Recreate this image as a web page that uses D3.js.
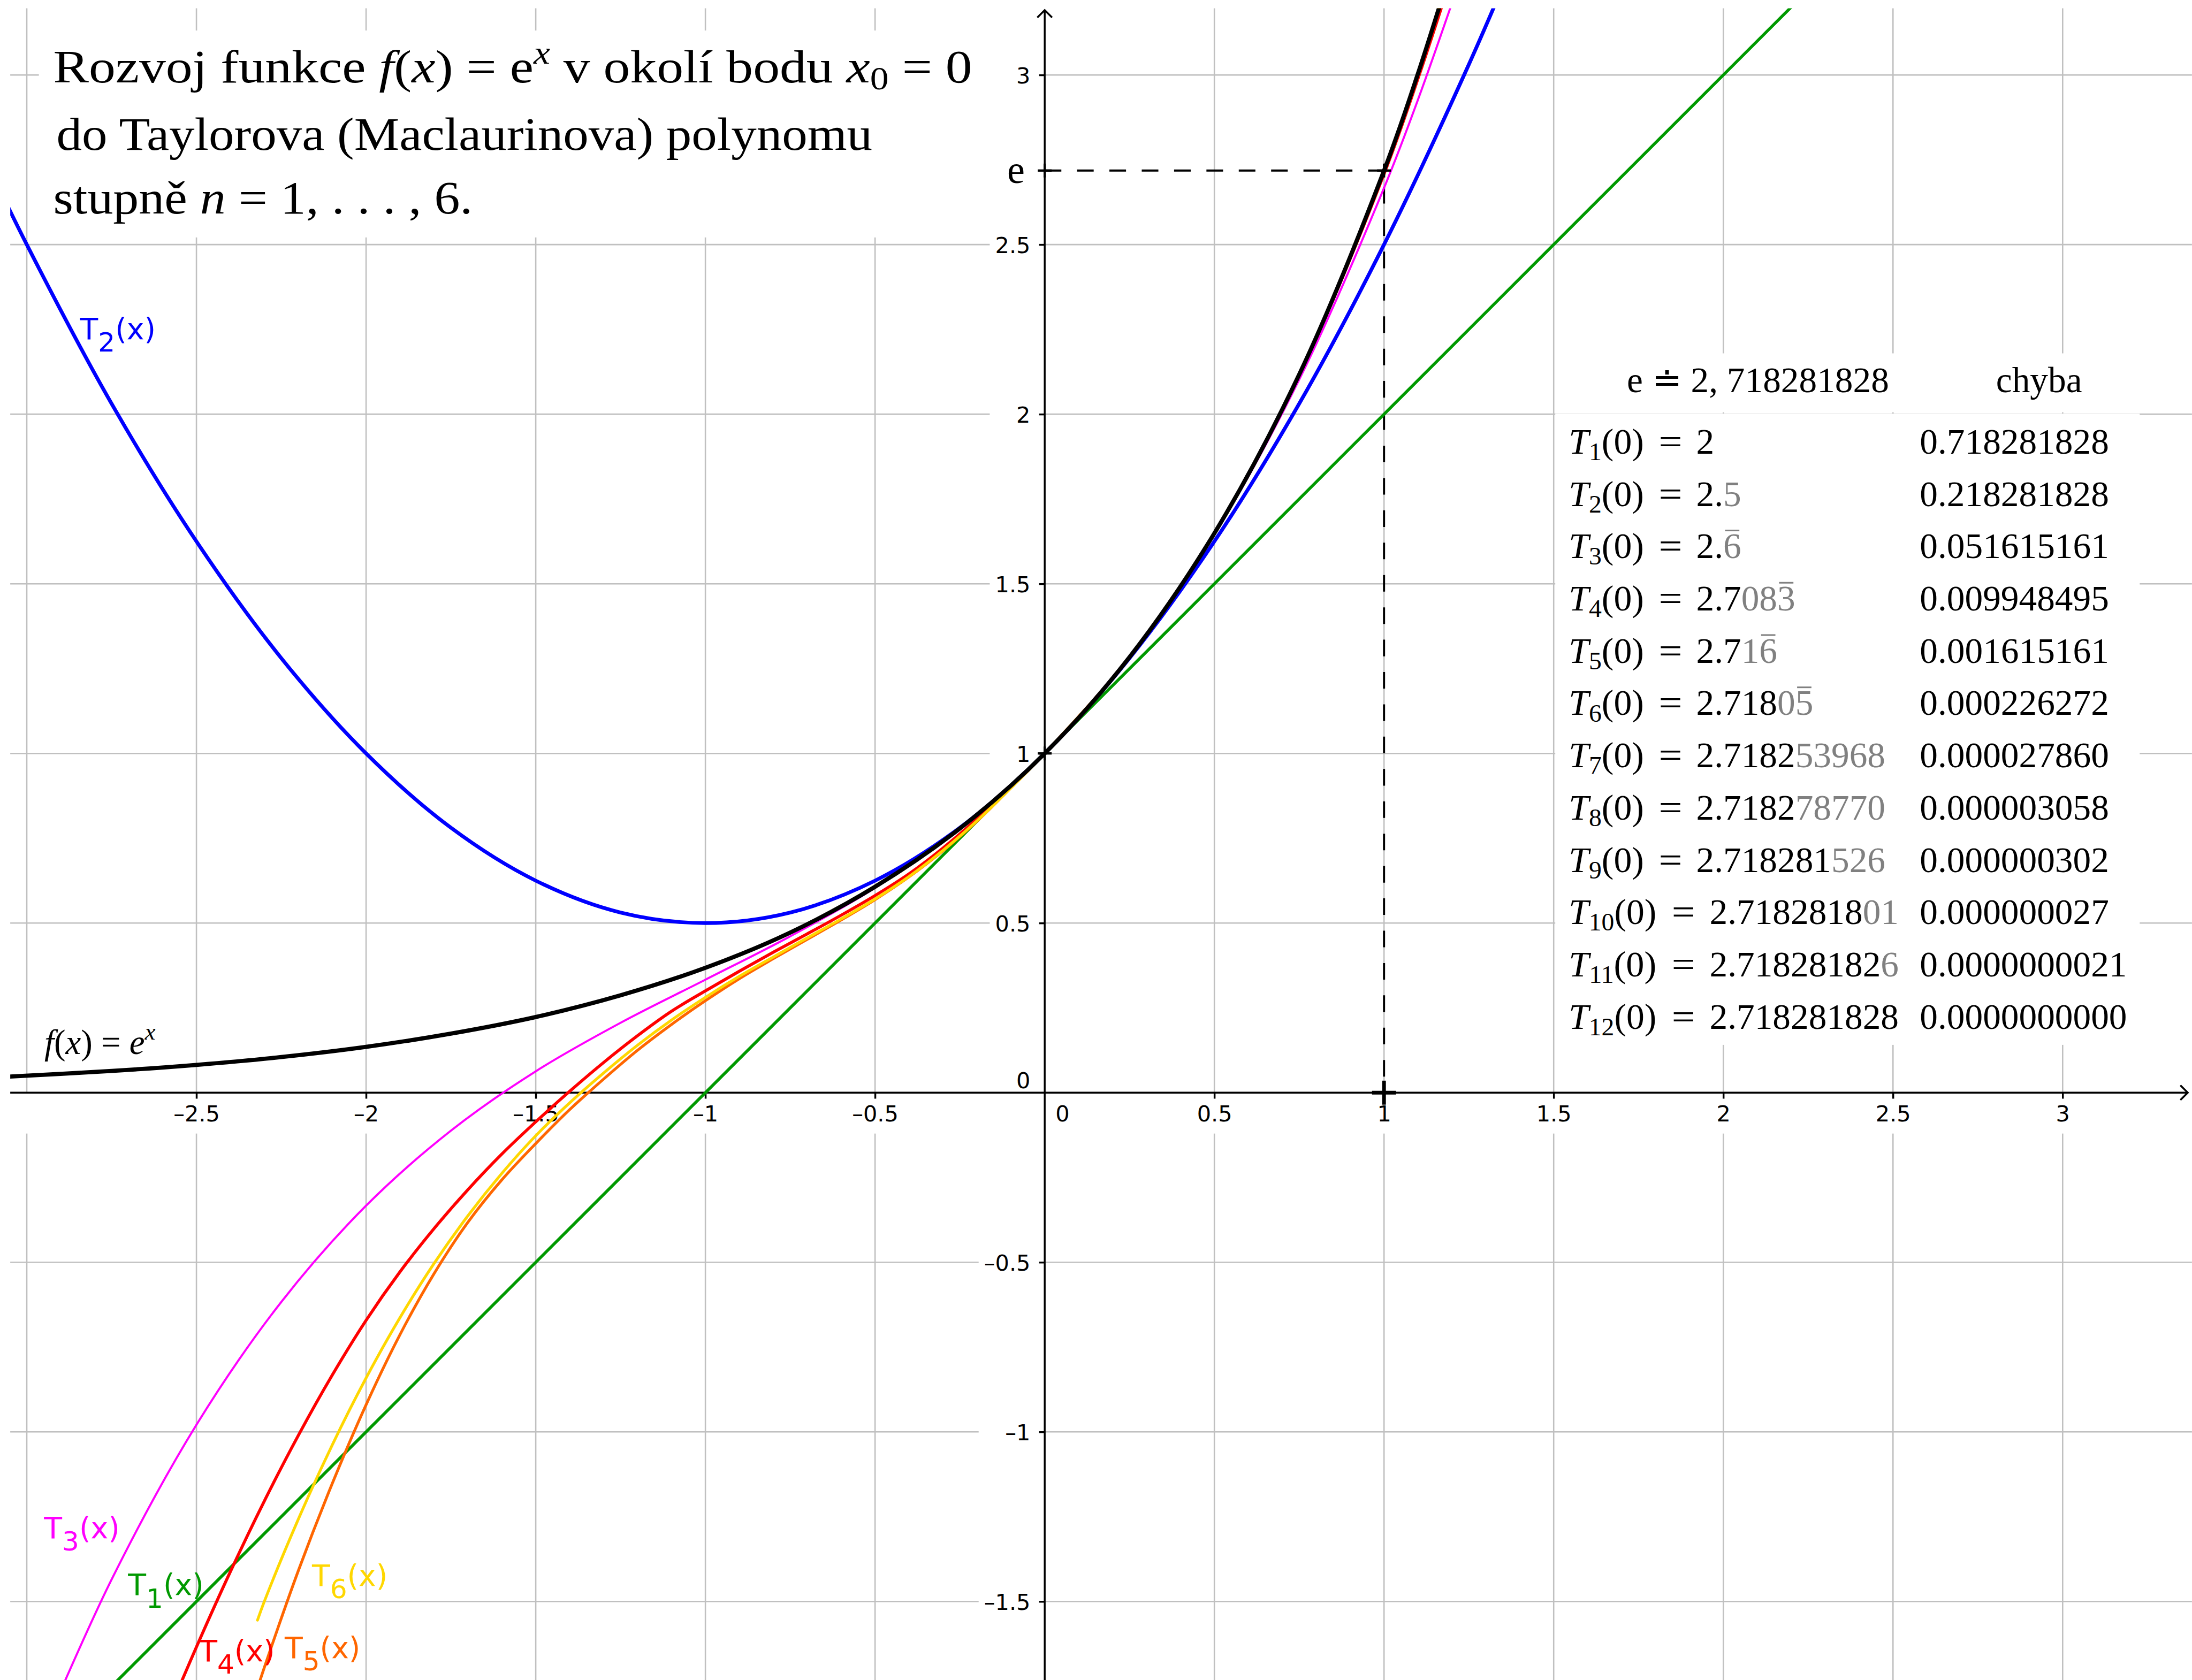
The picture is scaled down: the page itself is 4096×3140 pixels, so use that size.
<!DOCTYPE html>
<html>
<head>
	<meta charset="utf-8">
	<title>Taylor e^x</title>
	<style>
		body { margin: 0; background: #fff; }
		svg { display: block; }
		.grid line { stroke: #c0c0c0; stroke-width: 3; }
		.serif { font-family: "Liberation Serif", "Times New Roman", serif; }
		.lbl { font-family: "DejaVu Sans", sans-serif; font-size: 64px; }
	</style>
</head>
<body>
	<div id="chart"></div>
	<script src="https://cdnjs.cloudflare.com/ajax/libs/d3/7.8.5/d3.min.js"></script>
	<script>
	// Ticks and grid
	var xTicks = [-2.5, -2, -1.5, -1, -0.5, 0, 0.5, 1, 1.5, 2, 2.5, 3]
	var yTicks = [-1.5, -1, -0.5, 0, 0.5, 1, 1.5, 2, 2.5, 3]
	var gridX  = [-3, -2.5, -2, -1.5, -1, -0.5, 0.5, 1, 1.5, 2, 2.5, 3]
	var gridY  = [-1.5, -1, -0.5, 0.5, 1, 1.5, 2, 2.5, 3]

	// Curves as [x, y]
	var fPts = [[-3.1,0.045],[-2.75,0.064],[-2.5,0.082],[-2.25,0.105],[-2,0.135],[-1.75,0.174],[-1.5,0.223],
		[-1.25,0.287],[-1,0.368],[-0.75,0.472],[-0.5,0.607],[-0.25,0.779],[0,1],[0.25,1.284],[0.5,1.649],
		[0.75,2.117],[1,2.718],[1.1,3.004],[1.2,3.32]]
	var t1Pts = [[-2.8,-1.8],[-2,-1],[-1,0],[0,1],[1,2],[2.3,3.3]]
	var t2Pts = [[-3.1,2.705],[-3,2.5],[-2.75,2.031],[-2.5,1.625],[-2.25,1.281],[-2,1],[-1.75,0.781],[-1.5,0.625],
		[-1.25,0.531],[-1,0.5],[-0.75,0.531],[-0.5,0.625],[-0.25,0.781],[0,1],[0.25,1.281],[0.5,1.625],
		[0.75,2.031],[1,2.5],[1.25,3.031],[1.4,3.38]]
	var t3Pts = [[-2.95,-1.878],[-2.75,-1.435],[-2.5,-0.979],[-2.25,-0.617],[-2,-0.333],[-1.75,-0.112],[-1.5,0.063],
		[-1.25,0.206],[-1,0.333],[-0.75,0.461],[-0.5,0.604],[-0.25,0.779],[0,1],[0.25,1.284],[0.5,1.646],
		[0.75,2.102],[1,2.667],[1.1,2.927],[1.25,3.357]]
	var t4Pts = [[-2.56,-1.774],[-2.5,-1.634],[-2.4,-1.412],[-2.3,-1.204],[-2.2,-1.011],[-2.1,-0.833],[-2,-0.671],
		[-1.9,-0.528],[-1.8,-0.401],[-1.7,-0.286],[-1.6,-0.181],[-1.5,-0.086],[-1.4,0.004],[-1.3,0.089],[-1.2,0.168],
		[-1.1,0.24],[-1,0.3],[-0.9,0.358],[-0.8,0.414],[-0.7,0.468],[-0.6,0.523],[-0.5,0.581],[-0.4,0.645],
		[-0.3,0.721],[-0.2,0.807],[-0.1,0.902],[0,1],[0.25,1.284],[0.5,1.648],[0.75,2.115],[1,2.708],[1.1,2.989],[1.2,3.294]]
	var t5Pts = [[-2.33,-1.786],[-2.3,-1.695],[-2.2,-1.41],[-2.1,-1.153],[-2,-0.92],[-1.9,-0.713],[-1.8,-0.534],
		[-1.7,-0.382],[-1.6,-0.257],[-1.5,-0.15],[-1.4,-0.05],[-1.3,0.04],[-1.2,0.125],[-1.1,0.201],[-1,0.271],
		[-0.9,0.336],[-0.8,0.395],[-0.7,0.452],[-0.6,0.509],[-0.5,0.569],[-0.4,0.636],[-0.3,0.713],[-0.2,0.8],
		[-0.1,0.898],[0,1],[0.25,1.284],[0.5,1.649],[0.75,2.117],[1,2.717],[1.1,3.004],[1.2,3.32]]
	var t6Pts = [[-2.32,-1.555],[-2.3,-1.5],[-2.2,-1.258],[-2.1,-1.039],[-2,-0.841],[-1.9,-0.663],[-1.8,-0.504],
		[-1.7,-0.363],[-1.6,-0.238],[-1.5,-0.127],[-1.4,-0.03],[-1.3,0.058],[-1.2,0.14],[-1.1,0.214],[-1,0.281],
		[-0.9,0.343],[-0.8,0.4],[-0.7,0.456],[-0.6,0.512],[-0.5,0.571],[-0.4,0.637],[-0.3,0.714],[-0.2,0.801],
		[-0.1,0.898],[0,1],[0.25,1.284],[0.5,1.649],[0.75,2.117],[1,2.718],[1.1,3.004],[1.2,3.32]]

	// Marked points
	var eVal = 2.718281828
	var smallMarks = [[0,1],[0,eVal],[1,eVal]]
	var bigMarks = [[1,0]]
	var dashPath = [[0,eVal],[1,eVal],[1,0]]

	// Table
	var tabN     = [1,2,3,4,5,6,7,8,9,10,11,12]
	var tabBlack = ["2","2.","2.","2.7","2.7","2.718","2.7182","2.7182","2.718281","2.7182818","2.71828182","2.718281828"]
	var tabGray  = ["","5","6","083","16","05","53968","78770","526","01","6",""]
	var tabBar   = [false,false,true,true,true,true,false,false,false,false,false,false]
	var tabErr   = ["0.718281828","0.218281828","0.051615161","0.009948495","0.001615161","0.000226272",
		"0.000027860","0.000003058","0.000000302","0.000000027","0.0000000021","0.0000000000"]

	// Canvas, drawn in the reference's pixel space
	var W = 4744, H = 3637
	var ox = 2261, oy = 2365.5, unit = 734.4

	var svg = d3.select("#chart").append("svg")
		.attr("width", 4096).attr("height", 3140)
		.attr("viewBox", "0 0 " + W + " " + H)

	svg.append("rect").attr("width", W).attr("height", H).attr("fill", "#fff")

	var x = d3.scaleLinear().domain([0, 1]).range([ox, ox + unit])
	var y = d3.scaleLinear().domain([0, 1]).range([oy, oy - unit])

	// Grid
	var grid = svg.append("g").attr("class", "grid")
	grid.selectAll(".gx").data(gridX).enter().append("line")
		.attr("x1", d => x(d)).attr("x2", d => x(d)).attr("y1", 18).attr("y2", H)
	grid.selectAll(".gy").data(gridY).enter().append("line")
		.attr("y1", d => y(d)).attr("y2", d => y(d)).attr("x1", 22).attr("x2", W)

	// White boxes: label strips, title, table
	var boxes = [
		[22, oy + 2, W, 2454],
		[2142, 18, ox - 2, oy],
		[2118, oy, ox - 2, H],
		[84, 66, 2150, 514],
		[3366, 765, 4631, 892.5],
		[3366, 895.5, 4631, 2262]
	]
	svg.append("g").selectAll("rect").data(boxes).enter().append("rect")
		.attr("x", d => d[0]).attr("y", d => d[1])
		.attr("width", d => d[2] - d[0]).attr("height", d => d[3] - d[1])
		.attr("fill", "#fff")

	// Axes
	var fmt = function(d){ return d < 0 ? "\u2013" + Math.abs(d) : String(d) }

	var gx = svg.append("g").attr("transform", "translate(0," + oy + ")")
		.call(d3.axisBottom(x).tickValues(xTicks).tickSize(13).tickPadding(15.5).tickFormat(fmt))
	gx.attr("font-family", "'DejaVu Sans', sans-serif").attr("font-size", 48)
	gx.select(".domain").remove()
	gx.selectAll(".tick line").attr("stroke", "#000").attr("stroke-width", 4)
	gx.selectAll(".tick text").attr("fill", "#000")
	gx.selectAll(".tick").filter(d => d === 0).select("line").remove()
	gx.selectAll(".tick").filter(d => d === 0).select("text").attr("x", 38)

	var gy = svg.append("g").attr("transform", "translate(" + ox + ",0)")
		.call(d3.axisLeft(y).tickValues(yTicks).tickSize(12).tickPadding(19).tickFormat(fmt))
	gy.attr("font-family", "'DejaVu Sans', sans-serif").attr("font-size", 48)
	gy.select(".domain").remove()
	gy.selectAll(".tick line").attr("stroke", "#000").attr("stroke-width", 4)
	gy.selectAll(".tick text").attr("fill", "#000").attr("dy", "0.375em")
	gy.selectAll(".tick").filter(d => d === 0).select("line").remove()
	gy.selectAll(".tick").filter(d => d === 0).select("text").attr("dy", -10.5)

	var axes = svg.append("g").attr("stroke", "#000").attr("stroke-width", 4).attr("fill", "none")
	axes.append("line").attr("x1", 22).attr("x2", 4735).attr("y1", oy).attr("y2", oy)
	axes.append("line").attr("x1", ox).attr("x2", ox).attr("y1", 22).attr("y2", H)
	axes.append("path").attr("d", "M4719," + (oy - 16) + "L4735," + oy + "L4719," + (oy + 16))
	axes.append("path").attr("d", "M" + (ox - 16) + ",38L" + ox + ",22L" + (ox + 16) + ",38")

	// "e" on the y axis
	svg.append("text").attr("class", "serif").attr("font-size", 86)
		.attr("text-anchor", "end").attr("x", 2218).attr("y", y(eVal) + 27).text("e")

	// Dashed guide to (1, e)
	var line = d3.line().x(d => x(d[0])).y(d => y(d[1]))
	svg.append("path").attr("d", line(dashPath))
		.attr("fill", "none").attr("stroke", "#000").attr("stroke-width", 4.5)
		.attr("stroke-dasharray", "36,34")

	// Curves
	svg.append("clipPath").attr("id", "clip").append("rect")
		.attr("x", 22).attr("y", 18).attr("width", W - 22).attr("height", H - 18)

	var curves = [
		{pts: t1Pts, color: "#009900", w: 6.5},
		{pts: t2Pts, color: "#0000ff", w: 8},
		{pts: t3Pts, color: "#ff00ff", w: 4.5},
		{pts: t4Pts, color: "#ff0000", w: 6.5},
		{pts: t5Pts, color: "#ff6600", w: 6},
		{pts: t6Pts, color: "#ffd700", w: 6},
		{pts: fPts,  color: "#000000", w: 9}
	]
	var smooth = d3.line().x(d => x(d[0])).y(d => y(d[1])).curve(d3.curveCatmullRom.alpha(0.5))
	svg.append("g").attr("clip-path", "url(#clip)")
		.selectAll("path").data(curves).enter().append("path")
		.attr("d", d => smooth(d.pts))
		.attr("fill", "none")
		.attr("stroke", d => d.color)
		.attr("stroke-width", d => d.w)
		.attr("stroke-linecap", "round")
		.attr("stroke-linejoin", "round")

	// Point crosses
	var cross = function(data, r, w){
		var g = svg.append("g").attr("stroke", "#000").attr("stroke-width", w)
		g.selectAll(".h").data(data).enter().append("line")
			.attr("x1", d => x(d[0]) - r).attr("x2", d => x(d[0]) + r)
			.attr("y1", d => y(d[1])).attr("y2", d => y(d[1]))
		g.selectAll(".v").data(data).enter().append("line")
			.attr("x1", d => x(d[0])).attr("x2", d => x(d[0]))
			.attr("y1", d => y(d[1]) - r).attr("y2", d => y(d[1]) + r)
	}
	cross(smallMarks, 15, 5)
	cross(bigMarks, 26, 8)

	// Rich text helper
	var addSegs = function(sel, segs){
		segs.forEach(function(s){
			var ts = sel.append("tspan").text(s.t)
			if (s.i) ts.attr("font-style", "italic")
			if (s.fs) ts.attr("font-size", s.fs)
			if (s.dy) ts.attr("dy", s.dy)
			if (s.fill) ts.attr("fill", s.fill)
		})
		return sel
	}

	// Curve labels
	var labels = [
		{n: "2", at: [-2.843, 2.2215], color: "#0000ff"},
		{n: "3", at: [-2.949, -1.313], color: "#ff00ff"},
		{n: "1", at: [-2.7015, -1.481], color: "#009900"},
		{n: "6", at: [-2.1596, -1.4534], color: "#ffd700"},
		{n: "4", at: [-2.4918, -1.676], color: "#ff0000"},
		{n: "5", at: [-2.2399, -1.666], color: "#ff6600"}
	]
	labels.forEach(function(l){
		var t = svg.append("text").attr("class", "lbl").attr("fill", l.color)
			.attr("x", x(l.at[0])).attr("y", y(l.at[1]))
		addSegs(t, [{t: "T"}, {t: l.n, fs: 58, dy: 27}, {t: "(x)", dy: -27}])
	})

	var fl = svg.append("text").attr("class", "serif").attr("font-size", 75)
		.attr("x", x(-2.948)).attr("y", y(0.1137))
	addSegs(fl, [{t: "f", i: 1}, {t: "("}, {t: "x", i: 1}, {t: ") = "}, {t: "e", i: 1},
		{t: "x", i: 1, fs: 52, dy: -32}])

	// Title
	var title = svg.append("g").attr("class", "serif").attr("font-size", 100).attr("fill", "#000")
	var l1 = title.append("text").attr("x", 115).attr("y", 178)
	addSegs(l1, [{t: "Rozvoj funkce "}, {t: "f", i: 1}, {t: "("}, {t: "x", i: 1}, {t: ") = e"},
		{t: "x", i: 1, fs: 70, dy: -40}, {t: " v okolí bodu ", dy: 40}, {t: "x", i: 1},
		{t: "0", fs: 70, dy: 16}, {t: " = 0", dy: -16}])
	l1.attr("textLength", 1989).attr("lengthAdjust", "spacingAndGlyphs")
	var l2 = title.append("text").attr("x", 122).attr("y", 324)
		.text("do Taylorova (Maclaurinova) polynomu")
	l2.attr("textLength", 1766).attr("lengthAdjust", "spacingAndGlyphs")
	var l3 = title.append("text").attr("x", 115).attr("y", 462)
	addSegs(l3, [{t: "stupně "}, {t: "n", i: 1}, {t: " = 1, . . . , 6."}])
	l3.attr("textLength", 908).attr("lengthAdjust", "spacingAndGlyphs")

	// Table
	var tab = svg.append("g").attr("class", "serif").attr("font-size", 78).attr("fill", "#000")
	tab.append("text").attr("x", 3521).attr("y", 849).text("e \u2250 2, 718281828")
	tab.append("text").attr("x", 4320).attr("y", 849).text("chyba")

	tabN.forEach(function(n, i){
		var base = 982 + i * 113.2
		var wide = n >= 10
		var lt = tab.append("text").attr("x", 3395).attr("y", base)
		addSegs(lt, [{t: "T", i: 1}, {t: String(n), fs: 55, dy: 14}, {t: "(0)", dy: -14}])
		lt.attr("textLength", wide ? 190 : 163).attr("lengthAdjust", "spacingAndGlyphs")
		tab.append("text").attr("x", wide ? 3618 : 3590).attr("y", base)
			.attr("textLength", 51).attr("lengthAdjust", "spacingAndGlyphs").text("=")
		var vt = tab.append("text").attr("x", wide ? 3700 : 3671).attr("y", base)
		addSegs(vt, [{t: tabBlack[i]}, {t: tabGray[i], fill: "#808080"}])
		if (tabBar[i]) {
			var k = tabBlack[i].length + tabGray[i].length - 1
			var r = vt.node().getExtentOfChar(k)
			tab.append("line").attr("x1", r.x + 4).attr("x2", r.x + r.width - 4)
				.attr("y1", base - 60).attr("y2", base - 60)
				.attr("stroke", "#808080").attr("stroke-width", 3.5)
		}
		tab.append("text").attr("x", 4155).attr("y", base).text(tabErr[i])
	})
	</script>
</body>
</html>
